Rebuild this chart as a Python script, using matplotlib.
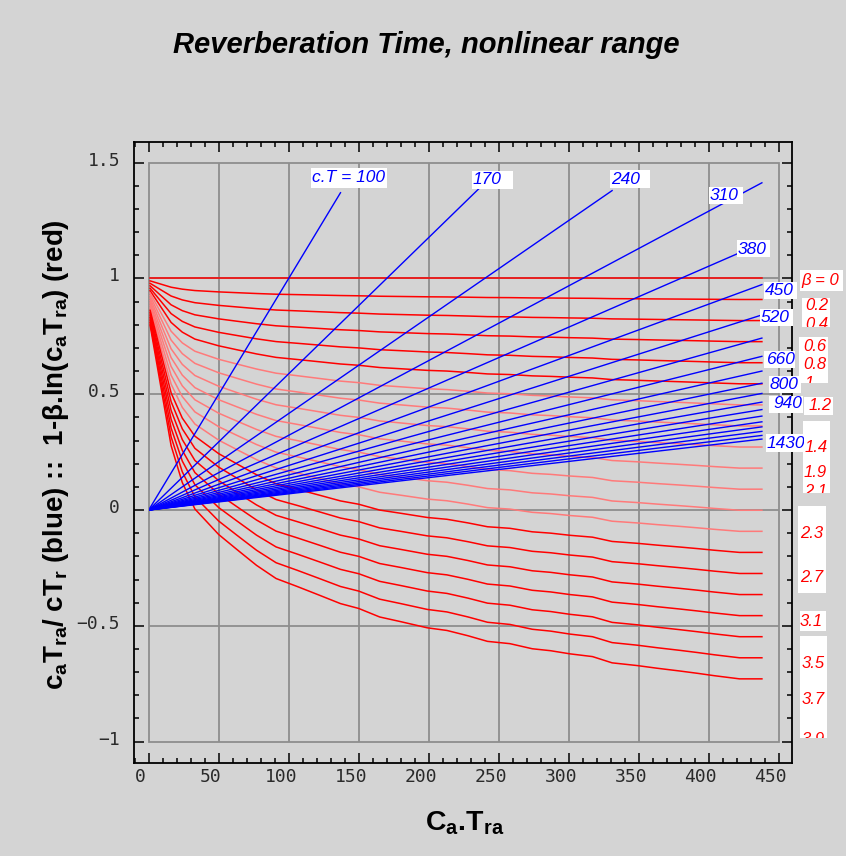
import matplotlib
matplotlib.use("Agg")
import matplotlib.pyplot as plt
import matplotlib.transforms as mtransforms
from matplotlib.patches import Rectangle
from matplotlib.ticker import MultipleLocator, FixedLocator, FixedFormatter
import numpy as np

plt.rcParams['mathtext.fontset'] = 'custom'
plt.rcParams['mathtext.rm'] = 'Liberation Sans:bold'
plt.rcParams['mathtext.it'] = 'Liberation Sans:bold:italic'
plt.rcParams['mathtext.bf'] = 'Liberation Sans:bold'

# data
ca_tra = [1, 16, 24, 33, 50, 63, 77, 91, 106, 122, 137, 150, 165, 180, 199, 213,
          228, 242, 258, 274, 287, 301, 317, 331, 349, 363, 379, 392, 404, 422, 438]
log_term = [0.053, 0.19, 0.232, 0.262, 0.291, 0.308, 0.326, 0.341, 0.350, 0.360,
            0.3695, 0.375, 0.3847, 0.390, 0.397, 0.400, 0.406, 0.4124, 0.415,
            0.4208, 0.423, 0.4266, 0.4297, 0.4368, 0.4399, 0.4429, 0.446, 0.4487,
            0.4514, 0.455, 0.455]
betas = [0, 0.2, 0.4, 0.6, 0.8, 1.0, 1.2, 1.4, 1.6, 1.8, 2.0, 2.2, 2.4, 2.6,
         2.8, 3.0, 3.2, 3.4, 3.6, 3.8]
light_betas = [1.2, 1.4, 1.6, 1.8, 2.0, 2.2, 2.4]
ct_values = [100, 170, 240, 310, 380, 450, 520, 590, 660, 730, 800, 870, 940,
             1010, 1080, 1150, 1220, 1290, 1360, 1430]
y_cap = 1.425

xgrid = [50, 100, 150, 200, 250, 300, 350, 400]
ygrid = [-0.5, 0, 0.5, 1]
yticks = [-1, -0.5, 0, 0.5, 1, 1.5]
ytick_labels = ['\u22121', '\u22120.5', '0', '0.5', '1', '1.5']
xticks = [0, 50, 100, 150, 200, 250, 300, 350, 400, 450]

# labels: text, text left px, centre y px, box (x0, y0, x1, y1) px
blue_labels = [
    ('c.T = 100', 312, 178, (311, 168, 387, 188)),
    ('170', 473, 180, (472, 171, 513, 189)),
    ('240', 611, 179, (610, 170, 650, 188)),
    ('310', 710, 196, (709, 187, 743, 204)),
    ('380', 738, 249, (737, 240, 770, 257)),
    ('450', 765, 290.5, (764, 282, 797, 299)),
    ('520', 761, 318, (760, 309, 793, 326)),
    ('660', 766, 359, (764, 351, 795, 368)),
    ('800', 770, 384, (769, 376, 801, 393)),
    ('940', 773, 404, (769, 396, 803, 413)),
    ('1430', 767, 443, (766, 434, 804, 452)),
]
red_boxes = [(800, 270, 843, 291), (802, 298, 830, 327), (799, 337, 828, 383),
             (804, 397, 833, 415), (803, 421, 830, 493), (798, 506, 826, 593),
             (800, 611, 826, 631), (800, 636, 827, 738)]
red_labels = [
    ('\u03b2 = 0', 801, 281, 0), ('0.2', 805, 305.5, 1), ('0.4', 805, 324.5, 1),
    ('0.6', 803, 346, 2), ('0.8', 803, 365, 2), ('1', 805, 383, 2),
    ('1.2', 809, 406, 3), ('1.4', 805, 448, 4), ('1.9', 804, 472.5, 4),
    ('2.1', 804, 491, 4), ('2.3', 800, 534, 5), ('2.7', 800, 578, 5),
    ('3.1', 800, 622, 6), ('3.5', 802, 664, 7), ('3.7', 802, 700, 7),
    ('3.9', 802, 740, 7),
]

W, H = 846, 856
bg = '#d4d4d4'
fig = plt.figure(figsize=(W / 100, H / 100), dpi=100, facecolor=bg)
ax = fig.add_axes([134 / W, 1 - 762.7 / H, 658 / W, 620.7 / H], facecolor=bg)
ax.set_xlim(-10.5, 459.5)
ax.set_ylim(-1.091, 1.589)


def fx(px):
    return px / W


def fy(py):
    return 1 - py / H


# inner frame and grid
ax.add_patch(Rectangle((0, -1), 450, 2.5, fill=False, ec='#8e8e8e', lw=1.3, zorder=1))
ax.vlines(xgrid, -1, 1.5, colors='#8e8e8e', lw=1.3, zorder=1)
ax.hlines(ygrid, 0, 450, colors='#8e8e8e', lw=1.3, zorder=1)

x = np.array(ca_tra, dtype=float)
L = np.array(log_term)
for b in betas:
    col = '#ff7a7a' if b in light_betas else '#ff0000'
    ax.plot(x, 1 - b * L, color=col, lw=1.1, zorder=2)

for ct in ct_values:
    y = x / ct
    keep = y <= y_cap
    ax.plot(x[keep], y[keep], color='#0000ff', lw=1.0, zorder=3)

# axes frame and ticks
for s in ax.spines.values():
    s.set_linewidth(1.3)
    s.set_color('black')
ax.xaxis.set_major_locator(FixedLocator(xticks))
ax.xaxis.set_minor_locator(MultipleLocator(10))
ax.yaxis.set_major_locator(FixedLocator(yticks))
ax.yaxis.set_major_formatter(FixedFormatter(ytick_labels))
ax.yaxis.set_minor_locator(MultipleLocator(0.1))
ax.tick_params(which='both', direction='in', top=True, right=True, width=1.1,
               colors='black', labelcolor='#2a2a2a')
ax.tick_params(which='major', length=7)
ax.tick_params(which='minor', length=3.5)
ax.tick_params(axis='x', pad=4)
ax.tick_params(axis='y', pad=10)
for lab in ax.get_xticklabels() + ax.get_yticklabels():
    lab.set_fontfamily('DejaVu Sans Mono')
    lab.set_fontsize(13)
shift_x = mtransforms.ScaledTranslation(-8 / 100, 0, fig.dpi_scale_trans)
shift_y = mtransforms.ScaledTranslation(0, 4 / 100, fig.dpi_scale_trans)
for lab in ax.get_xticklabels():
    lab.set_transform(lab.get_transform() + shift_x)
for lab in ax.get_yticklabels():
    lab.set_transform(lab.get_transform() + shift_y)

# titles
fig.text(fx(426.5), fy(45), 'Reverberation Time, nonlinear range', ha='center',
         va='center', fontsize=21, fontweight='bold', fontstyle='italic',
         family='Liberation Sans')
fig.text(fx(464.5), fy(823), r'C$\mathrm{_a}$.T$\mathrm{_{ra}}$', ha='center',
         va='center', fontsize=20.5, fontweight='bold', family='Liberation Sans')
ylab = (r'c$\mathrm{_a}$T$\mathrm{_{ra}}$/ cT$\mathrm{_r}$ (blue) ::  '
        '1-\u03b2.ln(' r'c$\mathrm{_a}$T$\mathrm{_{ra}}$) (red)')
fig.text(fx(56), fy(455), ylab, rotation=90, ha='center', va='center',
         fontsize=20, fontweight='bold', family='Liberation Sans')


def box_patch(b):
    x0, y0, x1, y1 = b
    r = Rectangle((fx(x0), fy(y1)), fx(x1) - fx(x0), fy(y0) - fy(y1),
                  transform=fig.transFigure, fc='white', ec='none', zorder=5)
    fig.add_artist(r)
    return r


for text, lx, cy, b in blue_labels:
    r = box_patch(b)
    t = fig.text(fx(lx), fy(cy), text, ha='left', va='center', fontsize=12.5,
                 fontstyle='italic', color='#0000ff', family='Liberation Sans',
                 zorder=6)
    t.set_clip_path(r)

red_patches = [box_patch(b) for b in red_boxes]
for text, lx, cy, bi in red_labels:
    t = fig.text(fx(lx), fy(cy), text, ha='left', va='center', fontsize=12,
                 fontstyle='italic', color='#ff0000', family='Liberation Sans',
                 zorder=6)
    t.set_clip_path(red_patches[bi])

fig.savefig('out.png', dpi=100, facecolor=bg)
